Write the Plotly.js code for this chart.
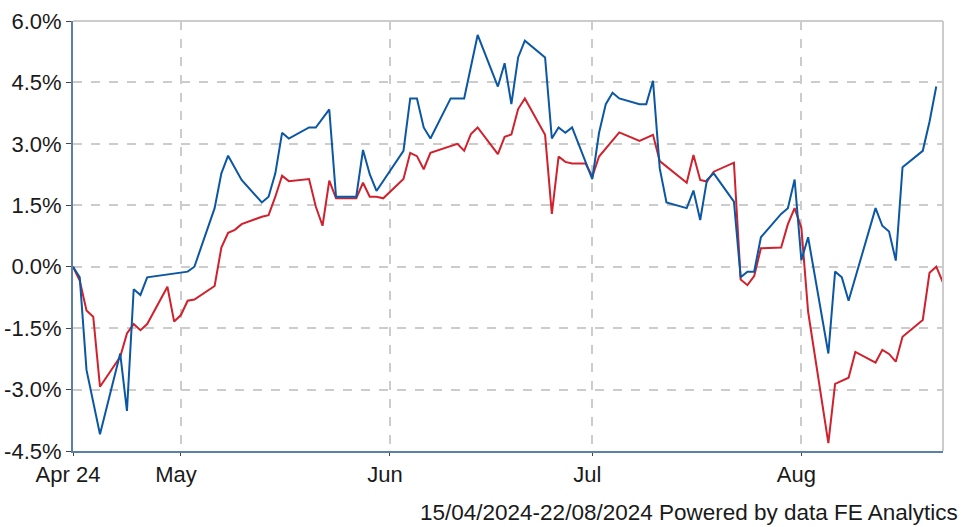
<!DOCTYPE html>
<html>
<head>
<meta charset="utf-8">
<script src="https://cdn.plot.ly/plotly-3.0.1.min.js"></script>
<style>html,body{margin:0;padding:0;background:#fff;}#chart{width:961px;height:527px;}</style>
</head>
<body>
<div id="chart"></div>
<script>
const blueDates = ['2024-04-15','2024-04-16','2024-04-17','2024-04-19','2024-04-22','2024-04-23','2024-04-24','2024-04-25','2024-04-26',
  '2024-05-02','2024-05-03','2024-05-06','2024-05-07','2024-05-08','2024-05-10','2024-05-13','2024-05-14','2024-05-15','2024-05-16','2024-05-17',
  '2024-05-20','2024-05-21','2024-05-23','2024-05-24','2024-05-27','2024-05-28','2024-05-29','2024-05-30',
  '2024-06-03','2024-06-04','2024-06-05','2024-06-06','2024-06-07','2024-06-10','2024-06-12','2024-06-13','2024-06-14',
  '2024-06-17','2024-06-18','2024-06-19','2024-06-20','2024-06-21','2024-06-24','2024-06-25','2024-06-26','2024-06-27','2024-06-28',
  '2024-07-01','2024-07-02','2024-07-03','2024-07-04','2024-07-05','2024-07-08','2024-07-09','2024-07-10','2024-07-11','2024-07-12',
  '2024-07-15','2024-07-16','2024-07-17','2024-07-18','2024-07-19','2024-07-22','2024-07-23','2024-07-24','2024-07-25','2024-07-26',
  '2024-07-29','2024-07-30','2024-07-31','2024-08-01','2024-08-02','2024-08-05','2024-08-06','2024-08-07','2024-08-08',
  '2024-08-12','2024-08-13','2024-08-14','2024-08-15','2024-08-16','2024-08-19','2024-08-20','2024-08-21'];
const blueValues = [0.00,-0.26,-2.52,-4.09,-2.12,-3.52,-0.55,-0.69,-0.26,
  -0.12,0.00,1.43,2.28,2.71,2.12,1.57,1.71,2.28,3.27,3.13,
  3.40,3.40,3.84,1.71,1.71,2.85,2.26,1.85,
  2.83,4.11,4.11,3.40,3.13,4.11,4.11,4.93,5.66,
  4.40,4.97,3.97,5.11,5.52,5.11,3.13,3.40,3.27,3.40,
  2.14,3.27,3.97,4.25,4.11,3.97,3.97,4.54,2.40,1.57,
  1.43,1.86,1.14,2.12,2.28,1.59,-0.26,-0.12,-0.12,0.72,
  1.29,1.43,2.13,0.16,0.72,-2.12,-0.12,-0.26,-0.83,
  1.43,1.00,0.86,0.15,2.43,2.83,3.54,4.40];

const redDates = ['2024-04-15','2024-04-16','2024-04-17','2024-04-18','2024-04-19','2024-04-22','2024-04-23','2024-04-24','2024-04-25','2024-04-26',
  '2024-04-29','2024-04-30','2024-05-01','2024-05-02','2024-05-03','2024-05-06','2024-05-07','2024-05-08','2024-05-09','2024-05-10',
  '2024-05-13','2024-05-14','2024-05-15','2024-05-16','2024-05-17','2024-05-20','2024-05-21','2024-05-22','2024-05-23','2024-05-24',
  '2024-05-27','2024-05-28','2024-05-29','2024-05-30','2024-05-31','2024-06-03','2024-06-04','2024-06-05','2024-06-06','2024-06-07',
  '2024-06-11','2024-06-12','2024-06-13','2024-06-14','2024-06-17','2024-06-18','2024-06-19','2024-06-20','2024-06-21',
  '2024-06-24','2024-06-25','2024-06-26','2024-06-27','2024-06-28','2024-06-30','2024-07-01','2024-07-02','2024-07-03','2024-07-05',
  '2024-07-08','2024-07-10','2024-07-11','2024-07-15','2024-07-16','2024-07-17','2024-07-18','2024-07-19',
  '2024-07-22','2024-07-23','2024-07-24','2024-07-25','2024-07-26','2024-07-29','2024-07-30','2024-07-31','2024-08-01','2024-08-02',
  '2024-08-05','2024-08-06','2024-08-08','2024-08-09','2024-08-12','2024-08-13','2024-08-14','2024-08-15','2024-08-16',
  '2024-08-19','2024-08-20','2024-08-21','2024-08-22'];
const redValues = [0.00,-0.34,-1.07,-1.22,-2.93,-2.20,-1.63,-1.40,-1.55,-1.40,
  -0.49,-1.34,-1.18,-0.83,-0.80,-0.47,0.47,0.83,0.90,1.04,
  1.22,1.26,1.71,2.22,2.09,2.14,1.47,1.00,2.10,1.67,
  1.67,2.05,1.71,1.71,1.67,2.14,2.78,2.70,2.38,2.78,
  3.00,2.83,3.24,3.40,2.75,3.17,3.23,3.85,4.11,
  3.22,1.29,2.69,2.56,2.52,2.52,2.20,2.69,2.89,3.28,
  3.07,3.22,2.58,2.05,2.73,2.12,2.08,2.32,
  2.54,-0.31,-0.45,-0.23,0.45,0.47,1.04,1.43,0.95,-1.10,
  -4.31,-2.86,-2.71,-2.08,-2.34,-2.03,-2.13,-2.32,-1.71,
  -1.30,-0.15,0.00,-0.39];

const xTickVals = ['2024-04-15','2024-05-01','2024-06-01','2024-07-01','2024-08-01'];
const xTickText = ['Apr 24','May','Jun','Jul','Aug'];
const yTickVals = [-4.5,-3.0,-1.5,0,1.5,3.0,4.5,6.0];
const yTickText = ['-4.5%','-3.0%','-1.5%','0.0%','1.5%','3.0%','4.5%','6.0%'];
const footerText = '15/04/2024-22/08/2024 Powered by data FE Analytics';

const font = {family: 'Liberation Sans, Arial, sans-serif', size: 22, color: '#1a1a1a'};
const footerFont = {family: 'Liberation Sans, Arial, sans-serif', size: 22.5, color: '#1a1a1a'};

const traces = [
  {x: redDates, y: redValues, type: 'scatter', mode: 'lines', line: {color: '#d0212d', width: 2}, hoverinfo: 'skip'},
  {x: blueDates, y: blueValues, type: 'scatter', mode: 'lines', line: {color: '#0b57a3', width: 2}, hoverinfo: 'skip'}
];

const layout = {
  width: 961, height: 527,
  margin: {l: 73, r: 18, t: 21, b: 76},
  paper_bgcolor: '#fff', plot_bgcolor: '#fff',
  showlegend: false,
  font: font,
  xaxis: {
    type: 'date', range: ['2024-04-15', '2024-08-22'],
    tickmode: 'array', tickvals: xTickVals, ticktext: xTickText,
    showgrid: true, gridcolor: '#cccccc', gridwidth: 2, griddash: 'dash',
    showline: true, linecolor: '#5b80a8', linewidth: 2,
    ticks: 'outside', ticklen: 3, tickcolor: '#444', tickwidth: 1,
    ticklabelshift: -5,
    zeroline: false, tickfont: font, fixedrange: true
  },
  yaxis: {
    range: [-4.5, 6.0],
    tickmode: 'array', tickvals: yTickVals, ticktext: yTickText,
    showgrid: true, gridcolor: '#cccccc', gridwidth: 2, griddash: 'dash',
    showline: true, linecolor: '#5b80a8', linewidth: 2,
    ticks: 'outside', ticklen: 5, tickcolor: '#444', tickwidth: 1,
    zeroline: false, tickfont: font, fixedrange: true
  },
  shapes: [
    {type: 'line', xref: 'paper', yref: 'y', x0: 0, x1: 1, y0: 0, y1: 0, line: {color: '#555555', width: 1.5, dash: 'dash'}, layer: 'below'},
    {type: 'line', xref: 'paper', yref: 'paper', x0: 0, x1: 1, y0: 1, y1: 1, line: {color: '#cccccc', width: 2}},
    {type: 'line', xref: 'paper', yref: 'paper', x0: 1, x1: 1, y0: 0, y1: 1, line: {color: '#cccccc', width: 2}}
  ],
  annotations: [
    {text: footerText, xref: 'paper', yref: 'paper', x: 1.0195, y: -0.144, xanchor: 'right', yanchor: 'middle', showarrow: false, font: footerFont}
  ]
};

Plotly.newPlot('chart', traces, layout, {displayModeBar: false, staticPlot: true});
</script>
</body>
</html>
